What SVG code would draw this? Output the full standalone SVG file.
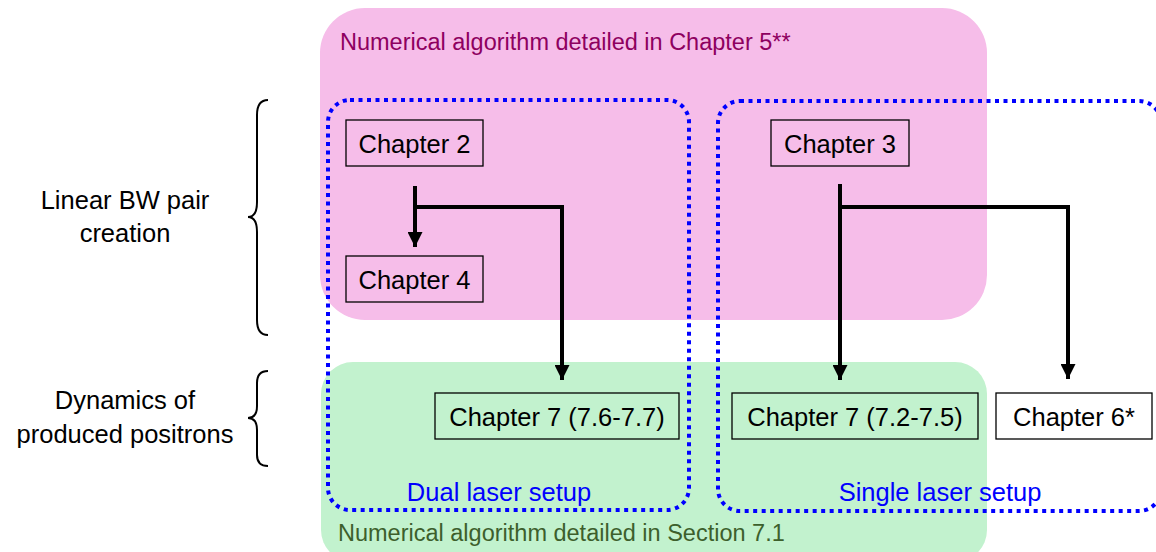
<svg xmlns="http://www.w3.org/2000/svg" width="1156" height="552" viewBox="0 0 1156 552">
<style>
text{font-family:"Liberation Sans",Arial,sans-serif}
.box{fill:none;stroke:#000;stroke-width:1.3}
.lbl{font-size:25.5px;fill:#000;text-anchor:middle}
.setup{fill:none;stroke:#0000ff;stroke-width:4;stroke-dasharray:4 4.5}
.conn{fill:none;stroke:#000;stroke-width:4}
.brace{fill:none;stroke:#000;stroke-width:2}
</style>
<defs>
<marker id="ah" viewBox="0 0 15 15" refX="15" refY="7.5" markerWidth="15" markerHeight="15" markerUnits="userSpaceOnUse" orient="auto">
<path d="M0,0 L15,7.5 L0,15 Z" fill="#000"/>
</marker>
</defs>
<rect width="1156" height="552" fill="#fff"/>
<g id="region-chapter5">
<rect x="320" y="8" width="667" height="312" rx="45" fill="#f6bde9"/>
<text x="340" y="50" font-size="23.5" fill="#8e0060">Numerical algorithm detailed in Chapter 5**</text>
</g>
<g id="region-section71">
<rect x="321" y="362" width="666" height="200" rx="32" fill="#c2f2ce"/>
<text x="338" y="541" font-size="23.5" fill="#3d5f2c">Numerical algorithm detailed in Section 7.1</text>
</g>
<g id="dual-setup">
<rect x="328" y="100" width="361" height="410" rx="22" class="setup"/>
<text x="499" y="501" font-size="25.5" fill="#0000ff" text-anchor="middle">Dual laser setup</text>
</g>
<g id="single-setup">
<rect x="718" y="101" width="443" height="410" rx="22" class="setup"/>
<text x="940" y="501" font-size="25.5" fill="#0000ff" text-anchor="middle">Single laser setup</text>
</g>
<g id="label-linear">
<text class="lbl" x="125" y="209">Linear BW pair</text>
<text class="lbl" x="125" y="242">creation</text>
<path class="brace" d="M268,100 Q257,100 257,115 L257,202 Q257,217 248,217 Q257,217 257,232 L257,320 Q257,335 268,335"/>
</g>
<g id="label-dynamics">
<text class="lbl" x="125" y="409">Dynamics of</text>
<text class="lbl" x="125" y="443">produced positrons</text>
<path class="brace" d="M268,371 Q257,371 257,383 L257,406 Q257,418 248,418 Q257,418 257,430 L257,455 Q257,466 268,466"/>
</g>
<g id="ch2">
<rect class="box" x="346" y="120" width="137" height="46"/>
<text class="lbl" x="414.5" y="153">Chapter 2</text>
</g>
<g id="ch3">
<rect class="box" x="771" y="120" width="138" height="46"/>
<text class="lbl" x="840" y="153">Chapter 3</text>
</g>
<g id="ch4">
<rect class="box" x="346" y="256" width="137" height="46"/>
<text class="lbl" x="414.5" y="289">Chapter 4</text>
</g>
<g id="ch7a">
<rect class="box" x="435" y="393" width="244" height="46"/>
<text class="lbl" x="557" y="426">Chapter 7 (7.6-7.7)</text>
</g>
<g id="ch7b">
<rect class="box" x="732" y="393" width="246" height="46"/>
<text class="lbl" x="855" y="426">Chapter 7 (7.2-7.5)</text>
</g>
<g id="ch6">
<rect class="box" x="996" y="393" width="156" height="46" fill="#fff"/>
<text class="lbl" x="1074" y="426">Chapter 6*</text>
</g>
<g id="connectors">
<path class="conn" d="M415,186 L415,247" marker-end="url(#ah)"/>
<path class="conn" d="M415,207 L562,207 L562,380" marker-end="url(#ah)"/>
<path class="conn" d="M840,184 L840,380" marker-end="url(#ah)"/>
<path class="conn" d="M840,207 L1068,207 L1068,379" marker-end="url(#ah)"/>
</g>
</svg>
